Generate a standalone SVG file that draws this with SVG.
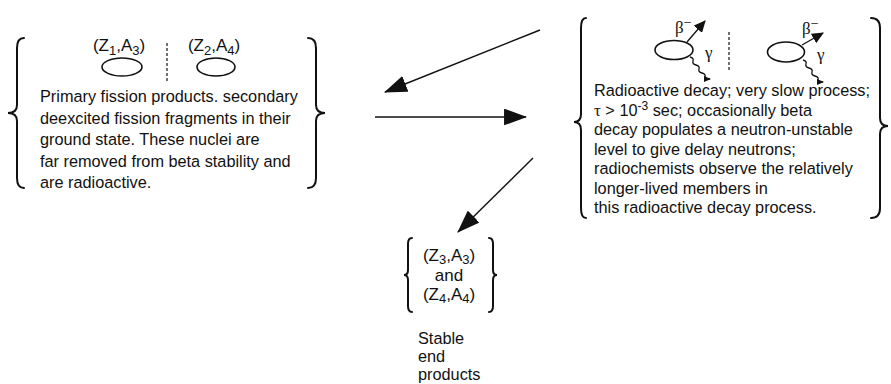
<svg xmlns="http://www.w3.org/2000/svg" width="891" height="384" viewBox="0 0 891 384">
<style>
  text { font-family: "Liberation Sans", Arial, Helvetica, sans-serif; font-size: 16.3px; fill: #111; }
  .lbl { font-size: 17px; }
  .sub { font-size: 13px; }
  .gr { font-family: "Liberation Serif", "Times New Roman", serif; font-size: 17px; }
  .brace { fill: none; stroke: #111; stroke-width: 2; stroke-linecap: round; }
  .nuc { fill: none; stroke: #111; stroke-width: 1.6; }
  .dash { stroke: #111; stroke-width: 1.2; stroke-dasharray: 3 2; }
  .conn { stroke: #111; stroke-width: 1.4; fill: none; }
  .thin { stroke: #111; stroke-width: 1.3; fill: none; }
</style>
<defs>
  <marker id="big" viewBox="0 0 22 16" refX="21" refY="8" markerWidth="23" markerHeight="17" markerUnits="userSpaceOnUse" orient="auto">
    <path d="M0,0 L22,8 L0,16 z" fill="#111"/>
  </marker>
  <marker id="small" viewBox="0 0 11 10" refX="10" refY="5" markerWidth="12" markerHeight="11" markerUnits="userSpaceOnUse" orient="auto">
    <path d="M0,0 L11,5 L0,10 z" fill="#111"/>
  </marker>
  <marker id="tiny" viewBox="0 0 7 6" refX="6" refY="3" markerWidth="7" markerHeight="6" markerUnits="userSpaceOnUse" orient="auto">
    <path d="M0,0 L7,3 L0,6 z" fill="#111"/>
  </marker>
</defs>

<g id="primary-products">
  <path class="brace" d="M24,38 Q17,38 17,48 L17,105 Q17,113 8,113 Q17,113 17,121 L17,178 Q17,188 24,188"/>
  <path class="brace" d="M308,38 Q316,38 316,48 L316,105 Q316,113 325,113 Q316,113 316,121 L316,178 Q316,188 308,188"/>
  <text class="lbl" x="119" y="51" text-anchor="middle">(Z<tspan class="sub" dy="4">1</tspan><tspan dy="-4">,A</tspan><tspan class="sub" dy="4">3</tspan><tspan dy="-4">)</tspan></text>
  <text class="lbl" x="214" y="51" text-anchor="middle">(Z<tspan class="sub" dy="4">2</tspan><tspan dy="-4">,A</tspan><tspan class="sub" dy="4">4</tspan><tspan dy="-4">)</tspan></text>
  <line class="dash" x1="167" y1="43" x2="167" y2="82"/>
  <ellipse class="nuc" cx="122" cy="67" rx="20" ry="9"/>
  <ellipse class="nuc" cx="216" cy="67" rx="19" ry="9"/>
  <text x="40" y="102">Primary fission products. secondary</text>
  <text x="40" y="123.5">deexcited fission fragments in their</text>
  <text x="40" y="145">ground state. These nuclei are</text>
  <text x="40" y="166.5">far removed from beta stability and</text>
  <text x="40" y="188">are radioactive.</text>
</g>

<g id="radioactive-decay">
  <path class="brace" d="M586,18 Q581,18 581,28 L581,114 Q581,122 574,122 Q581,122 581,130 L581,208 Q581,218 586,218"/>
  <path class="brace" d="M871,18 Q880,18 880,28 L880,118 Q880,126 888,126 Q880,126 880,134 L880,208 Q880,218 871,218"/>
  <ellipse class="nuc" cx="674" cy="50" rx="19" ry="9.5"/>
  <ellipse class="nuc" cx="786" cy="52" rx="18.5" ry="10"/>
  <line class="dash" x1="729" y1="32" x2="729" y2="72"/>
  <line class="thin" x1="687" y1="42" x2="705" y2="21" marker-end="url(#small)"/>
  <line class="thin" x1="802" y1="45" x2="823" y2="33" marker-end="url(#small)"/>
  <text class="gr" x="675" y="33">β<tspan font-size="14" dy="-6">−</tspan></text>
  <text class="gr" x="802" y="34">β<tspan font-size="14" dy="-6">−</tspan></text>
  <text class="gr" x="705" y="58">γ</text>
  <text class="gr" x="817" y="60">γ</text>
  <path class="thin" d="M690,57 q4,1 3,4 q-1,3 3,4 q4,1 3,4 q-1,3 3,4 q4,1 3,4 q0,2 5,2" marker-end="url(#tiny)"/>
  <path class="thin" d="M803,60 q4,1 3,4 q-1,3 3,4 q4,1 3,4 q-1,3 3,4 q4,1 3,4 q0,2 5,2" marker-end="url(#tiny)"/>
  <text x="594" y="96">Radioactive decay; very slow process;</text>
  <text x="594" y="115.5"><tspan class="gr">τ</tspan> &gt; 10<tspan font-size="12" dy="-6">-3</tspan><tspan dy="6"> sec; occasionally beta</tspan></text>
  <text x="594" y="135">decay populates a neutron-unstable</text>
  <text x="594" y="154.5">level to give delay neutrons;</text>
  <text x="594" y="174">radiochemists observe the relatively</text>
  <text x="594" y="193.5">longer-lived members in</text>
  <text x="594" y="213">this radioactive decay process.</text>
</g>

<g id="stable-products">
  <path class="brace" d="M412,238 Q408,238 408,244 L408,270 Q408,275 404,275 Q408,275 408,280 L408,306 Q408,312 412,312"/>
  <path class="brace" d="M489,238 Q493,238 493,244 L493,270 Q493,275 497,275 Q493,275 493,280 L493,306 Q493,312 489,312"/>
  <text class="lbl" x="449" y="261" text-anchor="middle">(Z<tspan class="sub" dy="3">3</tspan><tspan dy="-3">,A</tspan><tspan class="sub" dy="3">3</tspan><tspan dy="-3">)</tspan></text>
  <text class="lbl" x="449" y="281" text-anchor="middle">and</text>
  <text class="lbl" x="449" y="300" text-anchor="middle">(Z<tspan class="sub" dy="3">4</tspan><tspan dy="-3">,A</tspan><tspan class="sub" dy="3">4</tspan><tspan dy="-3">)</tspan></text>
  <text x="418" y="344">Stable</text>
  <text x="418" y="362">end</text>
  <text x="418" y="380">products</text>
</g>

<g id="connectors">
  <line class="conn" x1="540" y1="30" x2="385" y2="92" marker-end="url(#big)"/>
  <line class="conn" x1="375" y1="117" x2="526" y2="117" marker-end="url(#big)"/>
  <line class="conn" x1="533" y1="158" x2="458" y2="232" marker-end="url(#big)"/>
</g>
</svg>
